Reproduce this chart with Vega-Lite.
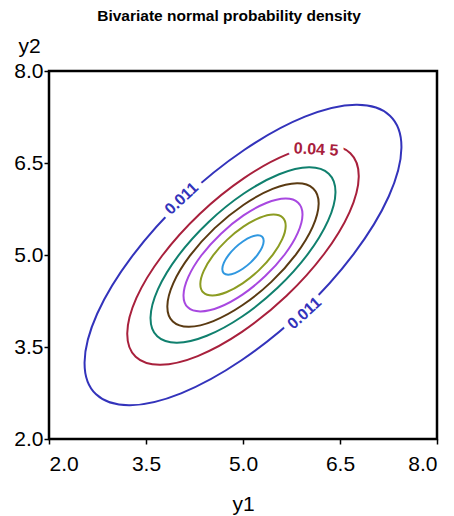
{
  "$schema": "https://vega.github.io/schema/vega-lite/v6.json",
  "autosize": {"type": "none"},
  "padding": {"left": 49, "top": 71, "right": 17, "bottom": 77},
  "width": 388,
  "height": 368,
  "background": "white",
  "title": {"text": "Bivariate normal probability density", "anchor": "middle", "frame": "group", "dx": -14, "offset": 11, "font": "Liberation Sans", "fontSize": 15.5, "fontWeight": "bold", "color": "black"},
  "config": {
    "view": {"stroke": "black", "strokeWidth": 2.5},
    "axis": {"domain": false, "grid": false, "tickColor": "black", "tickWidth": 1.5, "tickSize": 5, "labelFont": "Liberation Sans", "labelFontSize": 21, "labelColor": "black", "titleFont": "Liberation Sans", "titleFontSize": 21, "titleFontWeight": "normal", "titleColor": "black"}
  },
  "datasets": {
    "contours": [
      {"level":"0.011","i":0,"y1":7.272,"y2":7.272},{"level":"0.011","i":1,"y1":6.748,"y2":7.450},{"level":"0.011","i":2,"y1":5.958,"y2":7.255},{"level":"0.011","i":3,"y1":5.023,"y2":6.716},
      {"level":"0.011","i":4,"y1":4.083,"y2":5.917},{"level":"0.011","i":5,"y1":3.284,"y2":4.977},{"level":"0.011","i":6,"y1":2.745,"y2":4.042},{"level":"0.011","i":7,"y1":2.550,"y2":3.252},
      {"level":"0.011","i":8,"y1":2.728,"y2":2.728},{"level":"0.011","i":9,"y1":3.252,"y2":2.550},{"level":"0.011","i":10,"y1":4.042,"y2":2.745},{"level":"0.011","i":11,"y1":4.977,"y2":3.284},
      {"level":"0.011","i":12,"y1":5.917,"y2":4.083},{"level":"0.011","i":13,"y1":6.716,"y2":5.023},{"level":"0.011","i":14,"y1":7.255,"y2":5.958},{"level":"0.011","i":15,"y1":7.450,"y2":6.748},

      {"level":"0.045","i":0,"y1":6.660,"y2":6.660},{"level":"0.045","i":1,"y1":6.277,"y2":6.790},{"level":"0.045","i":2,"y1":5.700,"y2":6.648},{"level":"0.045","i":3,"y1":5.016,"y2":6.254},
      {"level":"0.045","i":4,"y1":4.330,"y2":5.670},{"level":"0.045","i":5,"y1":3.746,"y2":4.984},{"level":"0.045","i":6,"y1":3.352,"y2":4.300},{"level":"0.045","i":7,"y1":3.210,"y2":3.723},
      {"level":"0.045","i":8,"y1":3.340,"y2":3.340},{"level":"0.045","i":9,"y1":3.723,"y2":3.210},{"level":"0.045","i":10,"y1":4.300,"y2":3.352},{"level":"0.045","i":11,"y1":4.984,"y2":3.746},
      {"level":"0.045","i":12,"y1":5.670,"y2":4.330},{"level":"0.045","i":13,"y1":6.254,"y2":5.016},{"level":"0.045","i":14,"y1":6.648,"y2":5.700},{"level":"0.045","i":15,"y1":6.790,"y2":6.277},

      {"level":"0.079","i":0,"y1":6.326,"y2":6.326},{"level":"0.079","i":1,"y1":6.020,"y2":6.430},{"level":"0.079","i":2,"y1":5.559,"y2":6.316},{"level":"0.079","i":3,"y1":5.013,"y2":6.002},
      {"level":"0.079","i":4,"y1":4.465,"y2":5.535},{"level":"0.079","i":5,"y1":3.998,"y2":4.987},{"level":"0.079","i":6,"y1":3.684,"y2":4.441},{"level":"0.079","i":7,"y1":3.570,"y2":3.980},
      {"level":"0.079","i":8,"y1":3.674,"y2":3.674},{"level":"0.079","i":9,"y1":3.980,"y2":3.570},{"level":"0.079","i":10,"y1":4.441,"y2":3.684},{"level":"0.079","i":11,"y1":4.987,"y2":3.998},
      {"level":"0.079","i":12,"y1":5.535,"y2":4.465},{"level":"0.079","i":13,"y1":6.002,"y2":5.013},{"level":"0.079","i":14,"y1":6.316,"y2":5.559},{"level":"0.079","i":15,"y1":6.430,"y2":6.020},

      {"level":"0.113","i":0,"y1":6.085,"y2":6.085},{"level":"0.113","i":1,"y1":5.835,"y2":6.170},{"level":"0.113","i":2,"y1":5.458,"y2":6.077},{"level":"0.113","i":3,"y1":5.011,"y2":5.820},
      {"level":"0.113","i":4,"y1":4.562,"y2":5.438},{"level":"0.113","i":5,"y1":4.180,"y2":4.989},{"level":"0.113","i":6,"y1":3.923,"y2":4.542},{"level":"0.113","i":7,"y1":3.830,"y2":4.165},
      {"level":"0.113","i":8,"y1":3.915,"y2":3.915},{"level":"0.113","i":9,"y1":4.165,"y2":3.830},{"level":"0.113","i":10,"y1":4.542,"y2":3.923},{"level":"0.113","i":11,"y1":4.989,"y2":4.180},
      {"level":"0.113","i":12,"y1":5.438,"y2":4.562},{"level":"0.113","i":13,"y1":5.820,"y2":5.011},{"level":"0.113","i":14,"y1":6.077,"y2":5.458},{"level":"0.113","i":15,"y1":6.170,"y2":5.835},

      {"level":"0.147","i":0,"y1":5.853,"y2":5.853},{"level":"0.147","i":1,"y1":5.657,"y2":5.920},{"level":"0.147","i":2,"y1":5.360,"y2":5.847},{"level":"0.147","i":3,"y1":5.008,"y2":5.645},
      {"level":"0.147","i":4,"y1":4.656,"y2":5.344},{"level":"0.147","i":5,"y1":4.355,"y2":4.992},{"level":"0.147","i":6,"y1":4.153,"y2":4.640},{"level":"0.147","i":7,"y1":4.080,"y2":4.343},
      {"level":"0.147","i":8,"y1":4.147,"y2":4.147},{"level":"0.147","i":9,"y1":4.343,"y2":4.080},{"level":"0.147","i":10,"y1":4.640,"y2":4.153},{"level":"0.147","i":11,"y1":4.992,"y2":4.355},
      {"level":"0.147","i":12,"y1":5.344,"y2":4.656},{"level":"0.147","i":13,"y1":5.645,"y2":5.008},{"level":"0.147","i":14,"y1":5.847,"y2":5.360},{"level":"0.147","i":15,"y1":5.920,"y2":5.657},

      {"level":"0.181","i":0,"y1":5.612,"y2":5.612},{"level":"0.181","i":1,"y1":5.471,"y2":5.660},{"level":"0.181","i":2,"y1":5.258,"y2":5.607},{"level":"0.181","i":3,"y1":5.006,"y2":5.462},
      {"level":"0.181","i":4,"y1":4.753,"y2":5.247},{"level":"0.181","i":5,"y1":4.538,"y2":4.994},{"level":"0.181","i":6,"y1":4.393,"y2":4.742},{"level":"0.181","i":7,"y1":4.340,"y2":4.529},
      {"level":"0.181","i":8,"y1":4.388,"y2":4.388},{"level":"0.181","i":9,"y1":4.529,"y2":4.340},{"level":"0.181","i":10,"y1":4.742,"y2":4.393},{"level":"0.181","i":11,"y1":4.994,"y2":4.538},
      {"level":"0.181","i":12,"y1":5.247,"y2":4.753},{"level":"0.181","i":13,"y1":5.462,"y2":5.006},{"level":"0.181","i":14,"y1":5.607,"y2":5.258},{"level":"0.181","i":15,"y1":5.660,"y2":5.471},

      {"level":"0.215","i":0,"y1":5.297,"y2":5.297},{"level":"0.215","i":1,"y1":5.228,"y2":5.320},{"level":"0.215","i":2,"y1":5.125,"y2":5.295},{"level":"0.215","i":3,"y1":5.003,"y2":5.224},
      {"level":"0.215","i":4,"y1":4.880,"y2":5.120},{"level":"0.215","i":5,"y1":4.776,"y2":4.997},{"level":"0.215","i":6,"y1":4.705,"y2":4.875},{"level":"0.215","i":7,"y1":4.680,"y2":4.772},
      {"level":"0.215","i":8,"y1":4.703,"y2":4.703},{"level":"0.215","i":9,"y1":4.772,"y2":4.680},{"level":"0.215","i":10,"y1":4.875,"y2":4.705},{"level":"0.215","i":11,"y1":4.997,"y2":4.776},
      {"level":"0.215","i":12,"y1":5.120,"y2":4.880},{"level":"0.215","i":13,"y1":5.224,"y2":5.003},{"level":"0.215","i":14,"y1":5.295,"y2":5.125},{"level":"0.215","i":15,"y1":5.320,"y2":5.228}
    ]
  },
  "layer": [
    {
      "data": {"name": "contours"},
      "mark": {"type": "line", "interpolate": "cardinal-closed", "strokeWidth": 2},
      "encoding": {
        "x": {"field": "y1", "type": "quantitative", "scale": {"domain": [2, 8], "nice": false, "zero": false}, "axis": {"values": [2, 3.5, 5, 6.5, 8], "format": ".1f", "labelPadding": 9, "title": "y1", "titleY": 71, "titleBaseline": "alphabetic"}},
        "y": {"field": "y2", "type": "quantitative", "scale": {"domain": [2, 8], "nice": false, "zero": false}, "axis": {"values": [2, 3.5, 5, 6.5, 8], "format": ".1f", "labelPadding": 1, "title": "y2", "titleAngle": 0, "titleAlign": "center", "titleBaseline": "alphabetic", "titleX": -20, "titleY": -19}},
        "color": {"field": "level", "type": "nominal", "legend": null, "scale": {"domain": ["0.011", "0.045", "0.079", "0.113", "0.147", "0.181", "0.215"], "range": ["#3333bb", "#a8203c", "#10806e", "#5a3a12", "#a848e0", "#8c9c22", "#3098e0"]}},
        "order": {"field": "i", "type": "quantitative"}
      }
    },
    {
      "data": {"values": [{"label": "0.011", "level": "0.011", "y1": 4.05, "y2": 5.92}]},
      "layer": [
        {"mark": {"type": "text", "font": "Liberation Sans", "fontSize": 16, "fontWeight": "bold", "angle": 317, "align": "center", "baseline": "middle", "fill": "white", "stroke": "white", "strokeWidth": 12}, "encoding": {"x": {"field": "y1", "type": "quantitative"}, "y": {"field": "y2", "type": "quantitative"}, "text": {"field": "label"}}},
        {"mark": {"type": "text", "font": "Liberation Sans", "fontSize": 16, "fontWeight": "bold", "angle": 317, "align": "center", "baseline": "middle"}, "encoding": {"x": {"field": "y1", "type": "quantitative"}, "y": {"field": "y2", "type": "quantitative"}, "text": {"field": "label"}, "color": {"field": "level", "type": "nominal", "legend": null}}}
      ]
    },
    {
      "data": {"values": [{"label": "0.011", "level": "0.011", "y1": 5.95, "y2": 4.05}]},
      "layer": [
        {"mark": {"type": "text", "font": "Liberation Sans", "fontSize": 16, "fontWeight": "bold", "angle": 318, "align": "center", "baseline": "middle", "fill": "white", "stroke": "white", "strokeWidth": 12}, "encoding": {"x": {"field": "y1", "type": "quantitative"}, "y": {"field": "y2", "type": "quantitative"}, "text": {"field": "label"}}},
        {"mark": {"type": "text", "font": "Liberation Sans", "fontSize": 16, "fontWeight": "bold", "angle": 318, "align": "center", "baseline": "middle"}, "encoding": {"x": {"field": "y1", "type": "quantitative"}, "y": {"field": "y2", "type": "quantitative"}, "text": {"field": "label"}, "color": {"field": "level", "type": "nominal", "legend": null}}}
      ]
    },
    {
      "data": {"values": [{"label": "0.04 5", "level": "0.045", "y1": 6.13, "y2": 6.72}]},
      "layer": [
        {"mark": {"type": "text", "font": "Liberation Sans", "fontSize": 16, "fontWeight": "bold", "angle": 3, "align": "center", "baseline": "middle", "fill": "white", "stroke": "white", "strokeWidth": 12}, "encoding": {"x": {"field": "y1", "type": "quantitative"}, "y": {"field": "y2", "type": "quantitative"}, "text": {"field": "label"}}},
        {"mark": {"type": "text", "font": "Liberation Sans", "fontSize": 16, "fontWeight": "bold", "angle": 3, "align": "center", "baseline": "middle"}, "encoding": {"x": {"field": "y1", "type": "quantitative"}, "y": {"field": "y2", "type": "quantitative"}, "text": {"field": "label"}, "color": {"field": "level", "type": "nominal", "legend": null}}}
      ]
    }
  ]
}
